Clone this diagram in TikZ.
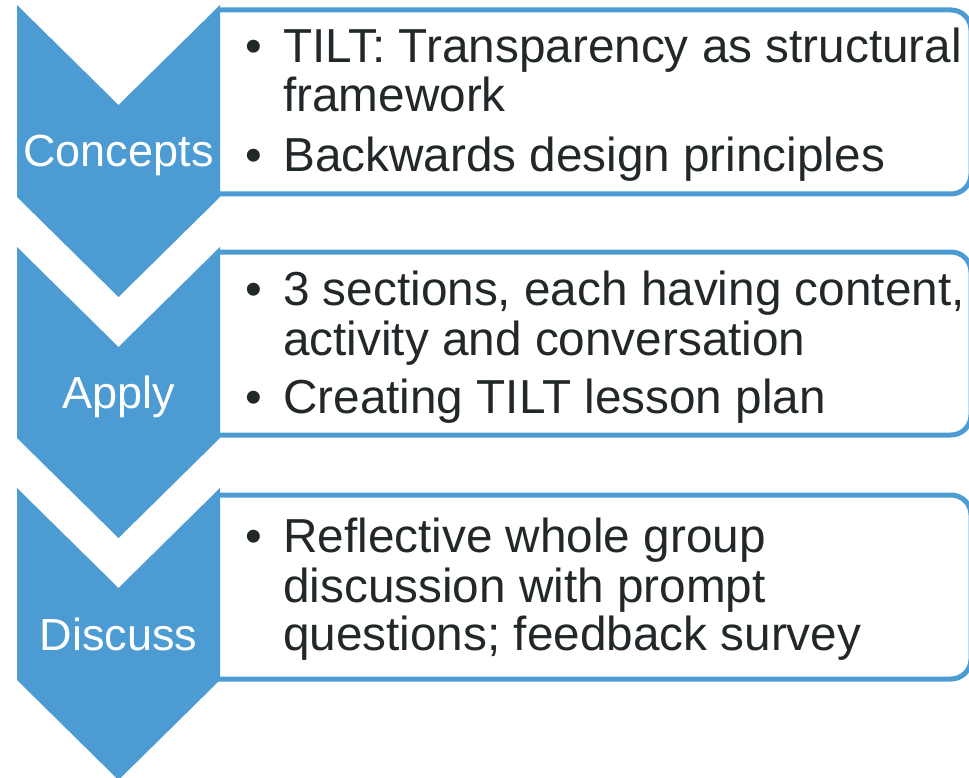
\documentclass[tikz,border=0pt]{standalone}
\usepackage{fontspec}
\setmainfont{Liberation Sans}
\pgfdeclarelayer{nodelayer}
\pgfdeclarelayer{edgelayer}
\pgfsetlayers{edgelayer,nodelayer,main}
\definecolor{chevron blue}{RGB}{76,156,211}
\definecolor{item grey}{RGB}{34,40,42}
\tikzstyle{chevron}=[fill=chevron blue, draw=none]
\tikzstyle{box}=[draw=chevron blue, line width=5pt, rounded corners=20pt]
\tikzstyle{step label}=[text=white, font=\fontsize{45}{54}\selectfont, inner sep=0pt, anchor=base]
\tikzstyle{bullet}=[text=item grey, font=\fontsize{47.7}{49}\selectfont, inner sep=0pt, anchor=base west]
\tikzstyle{item}=[text=item grey, font=\fontsize{47.7}{49}\selectfont, inner sep=0pt, anchor=base west]

\begin{document}
\begin{tikzpicture}[x=1pt, y=-1pt]
	\useasboundingbox (0, 0) rectangle (969, 778);
	\begin{pgfonlayer}{nodelayer}
		\node [style=step label] (0) at (118.5, 167) {Concepts};
		\node [style=step label] (1) at (118.5, 408) {Apply};
		\node [style=step label] (2) at (118.5, 650) {Discuss};
		\node [style=bullet] (3) at (245, 63) {\textbullet};
		\node [style=item] (4) at (283, 63) {TILT: Transparency as structural};
		\node [style=item] (5) at (283, 112) {framework};
		\node [style=bullet] (6) at (245, 172) {\textbullet};
		\node [style=item] (7) at (283, 172) {Backwards design principles};
		\node [style=bullet] (8) at (245, 305) {\textbullet};
		\node [style=item] (9) at (283, 305) {3 sections, each having content,};
		\node [style=item] (10) at (283, 355) {activity and conversation};
		\node [style=bullet] (11) at (245, 413) {\textbullet};
		\node [style=item] (12) at (283, 413) {Creating TILT lesson plan};
		\node [style=bullet] (13) at (245, 552) {\textbullet};
		\node [style=item] (14) at (283, 552) {Reflective whole group};
		\node [style=item] (15) at (283, 602) {discussion with prompt};
		\node [style=item] (16) at (283, 650) {questions; feedback survey};
	\end{pgfonlayer}
	\begin{pgfonlayer}{edgelayer}
		% boxes first, the chevrons hide their open left ends
		\draw [style=box] (218, 10) -- (971, 10) -- (971, 194) -- (218, 194);
		\draw [style=box] (218, 252) -- (971, 252) -- (971, 435) -- (218, 435);
		\draw [style=box] (218, 495) -- (971, 495) -- (971, 679) -- (218, 679);
		\foreach \t/\b in {5/197, 247/438, 488/680}
			\fill [style=chevron] (17, \t) -- (118.5, \t+100) -- (220, \t) -- (220, \b) -- (118.5, \b+100) -- (17, \b) -- cycle;
	\end{pgfonlayer}
\end{tikzpicture}
\end{document}
